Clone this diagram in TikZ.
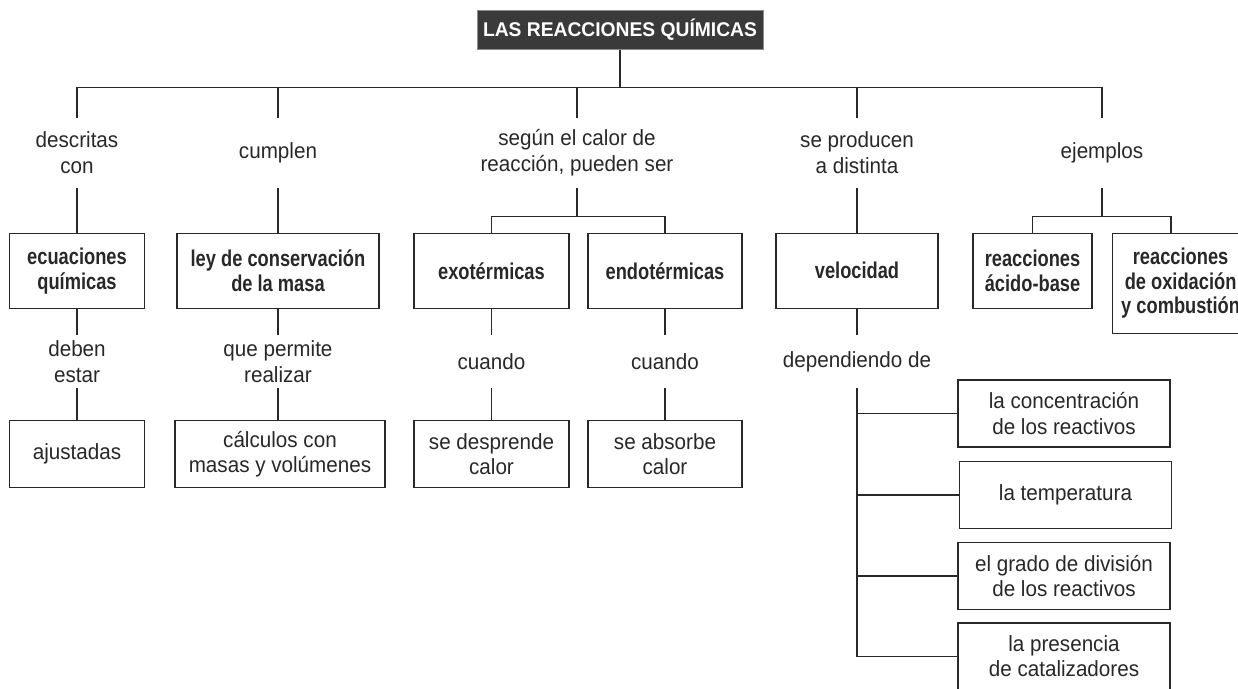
\documentclass[tikz,border=0pt]{standalone}
\usepackage{fontspec}
\setmainfont{Liberation Sans}[UprightFeatures={FakeStretch=0.94}, BoldFeatures={FakeStretch=0.80}]
\newfontfamily\titlefont{Liberation Sans}[BoldFeatures={FakeStretch=0.97}]
\usetikzlibrary{positioning}
\definecolor{inkgray}{RGB}{40,40,40}
\definecolor{titlegray}{RGB}{58,58,58}

\begin{document}
\begin{tikzpicture}[x=0.02cm, y=-0.02cm,
    every node/.style={text=inkgray, align=center, inner sep=0pt},
    conn/.style={draw=inkgray, line width=0.7pt},
    linker/.style={font=\fontsize{12.5}{14.8}\selectfont, minimum height=1.4cm},
    midlinker/.style={font=\fontsize{12.5}{14.8}\selectfont, minimum height=1.06cm},
    concept/.style={draw=inkgray, line width=0.7pt, font=\bfseries\fontsize{13}{14}\selectfont, minimum height=1.5cm, anchor=north},
    result/.style={draw=inkgray, line width=0.7pt, font=\fontsize{12.5}{14.3}\selectfont, minimum height=1.34cm}]
        \useasboundingbox (0,0) rectangle (1238,689);
        \clip (0,0) rectangle (1238,689);

        % Title
        \node[draw=black!45, fill=titlegray, text=white, font=\titlefont\bfseries\fontsize{11.3}{13}\selectfont, minimum width=5.72cm, minimum height=0.77cm] (top) at (620,30) {LAS REACCIONES QUÍMICAS};

        % First links
        \node[linker] (lab1) at (77,153) {descritas\\con};
        \node[linker] (lab2) at (278,153) {cumplen};
        \node[linker] (lab3) at (577,153) {según el calor de\\reacción, pueden ser};
        \node[linker] (lab4) at (857,153) {se producen\\a distinta};
        \node[linker] (lab5) at (1102,153) {ejemplos};

        \draw[conn] (lab1.north) -- ++(0,-30) coordinate (bus) -| (lab5.north);
        \draw[conn] (top) -- (top |- bus);
        \foreach \n in {lab2,lab3,lab4}
            \draw[conn] (\n.north) -- ++(0,-30);

        % Concepts
        \node[concept, minimum width=2.7cm] (b1) at (77,232.7) {ecuaciones\\químicas};
        \node[concept, minimum width=4.04cm] (b2) at (278,232.7) {ley de conservación\\de la masa};
        \node[concept, minimum width=3.1cm] (b3) at (491.5,232.7) {exotérmicas};
        \node[concept, minimum width=3.08cm] (b4) at (665,232.7) {endotérmicas};
        \node[concept, minimum width=3.24cm] (b5) at (857,232.7) {velocidad};
        \node[concept, minimum width=2.38cm] (b6) at (1032.5,232.7) {reacciones\\ácido-base};
        \node[concept, anchor=north west, minimum width=2.72cm, minimum height=2cm] (b7) at (1112,232.7) {reacciones\\de oxidación\\y combustión};

        \draw[conn] (lab1) -- (b1);
        \draw[conn] (lab2) -- (b2);
        \draw[conn] (lab4) -- (b5);
        \draw[conn] (lab3.south) -- ++(0,28) coordinate (fk1);
        \draw[conn] (b3.north) |- (fk1) -| (b4.north);
        \draw[conn] (lab5.south) -- ++(0,28) coordinate (fk2);
        \draw[conn] (b6.north) |- (fk2) -| ([xshift=1.18cm]b7.north west);

        % Second links
        \node[midlinker] (m1) at (77,361.5) {deben\\estar};
        \node[midlinker] (m2) at (278,361.5) {que permite\\realizar};
        \node[midlinker] (m3) at (491.5,361.5) {cuando};
        \node[midlinker] (m4) at (665,361.5) {cuando};
        \node[midlinker] (m5) at (857,361.5) {dependiendo de};

        % Results
        \node[result, anchor=north, minimum width=2.7cm] (r1) at (77,420) {ajustadas};
        \node[result, anchor=north, minimum width=4.2cm] (r2) at (280,420) {cálculos con\\masas y volúmenes};
        \node[result, anchor=north, minimum width=3.1cm] (r3) at (491.5,420) {se desprende\\calor};
        \node[result, anchor=north, minimum width=3.08cm] (r4) at (665,420) {se absorbe\\calor};

        \draw[conn] (b1) -- (m1) (m1) -- (r1);
        \draw[conn] (b2) -- (m2) (m2) -- (m2 |- r2.north);
        \draw[conn] (b3) -- (m3) (m3) -- (r3);
        \draw[conn] (b4) -- (m4) (m4) -- (r4);
        \draw[conn] (b5) -- (m5);

        % Factors
        \node[result, minimum width=4.24cm] (f1) at (1064,413.5) {la concentración\\de los reactivos};
        \node[result, minimum width=4.24cm] (f2) at (1065.5,495) {la temperatura};
        \node[result, minimum width=4.24cm] (f3) at (1064,576) {el grado de división\\de los reactivos};
        \node[result, minimum width=4.24cm] (f4) at (1064,656.5) {la presencia\\de catalizadores};

        \draw[conn] (m5.south) |- (f4.west);
        \foreach \f in {f1,f2,f3}
            \draw[conn] (m5.south |- \f.west) -- (\f.west);
    \end{tikzpicture}
\end{document}
